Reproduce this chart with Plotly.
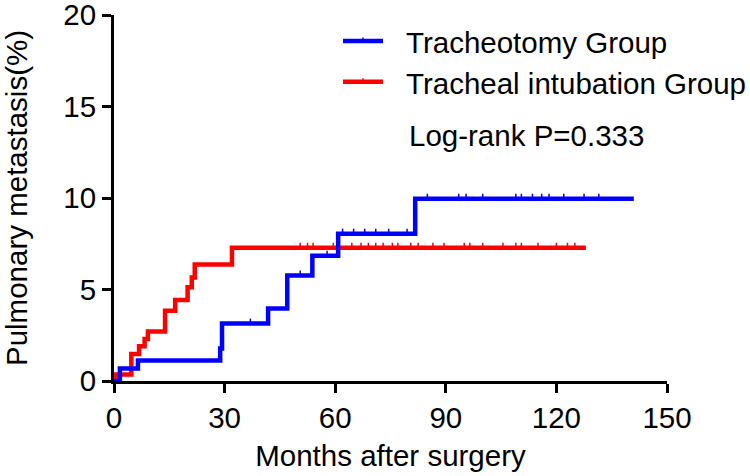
import plotly.graph_objects as go
import numpy as np

# ---- data (months, cumulative % with pulmonary metastasis) ----
blue_name = "Tracheotomy Group"
blue_time = [0, 1.6, 6.5, 28.8, 29.3, 41.8, 47.0, 53.8, 60.8, 81.7, 141.0]
blue_value = [0, 0.68, 1.12, 1.77, 3.14, 3.96, 5.76, 6.85, 8.05, 9.96, 9.96]
blue_censor = [37, 50.5, 57.8, 62, 65, 68, 71, 74.5, 79.5, 85, 93.5, 95.5, 100,
               109, 110.5, 113.5, 116, 118, 122, 127.5, 131.5]

red_name = "Tracheal intubation Group"
red_time = [0, 0.5, 4.7, 6.8, 8.3, 9.2, 13.85, 16.6, 19.96, 21.1, 21.9, 32.0, 128.0]
red_value = [0, 0.35, 1.48, 1.9, 2.3, 2.7, 3.84, 4.43, 5.12, 5.66, 6.36, 7.28, 7.28]
red_censor = [50.5, 52.5, 54, 59.5, 64.5, 67, 69, 71, 73, 75.5, 77, 80.5, 82.5,
              86.5, 89.5, 95, 96.5, 100, 105.5, 109, 110.5, 115, 120, 123, 125]

x_ticks = [0, 30, 60, 90, 120, 150]
y_ticks = [0, 5, 10, 15, 20]
x_title = "Months after surgery"
y_title = "Pulmonary metastasis(%)"
p_text = "Log-rank P=0.333"

BLUE = "#0000FF"
RED = "#FF0000"
FONT = "Liberation Sans, Arial, sans-serif"
FS = 29.5


def step_at(times, values, t):
    idx = np.searchsorted(np.array(times), t, side="right") - 1
    return values[max(idx, 0)]


fig = go.Figure()

for times, values, censor, color, name in [
    (red_time, red_value, red_censor, RED, red_name),
    (blue_time, blue_value, blue_censor, BLUE, blue_name),
]:
    fig.add_trace(go.Scatter(
        x=times, y=values, mode="lines", line=dict(color=color, width=4.5, shape="hv"),
        name=name, showlegend=False, cliponaxis=False, hoverinfo="skip"))
    fig.add_trace(go.Scatter(
        x=censor, y=[step_at(times, values, t) + 0.12 for t in censor], mode="markers",
        marker=dict(symbol="line-ns", size=4, line=dict(color=color, width=1.5)),
        showlegend=False, cliponaxis=False, hoverinfo="skip"))

# manual legend (Prism style), positioned in paper space
L, R, T, B = 114, 667, 15, 381


def px(xp):
    return (xp - L) / (R - L)


def py(yp):
    return (B - yp) / (B - T)


for row_y, color, name in [(41, BLUE, blue_name), (81.7, RED, red_name)]:
    fig.add_shape(type="line", xref="paper", yref="paper", x0=px(343), x1=px(383),
                  y0=py(row_y), y1=py(row_y), line=dict(color=color, width=4.5))
    fig.add_shape(type="line", xref="paper", yref="paper", x0=px(363), x1=px(363),
                  y0=py(row_y), y1=py(row_y - 3.5), line=dict(color=color, width=1.5))
    fig.add_annotation(xref="paper", yref="paper", x=px(404), y=py(row_y + 2),
                       xanchor="left", yanchor="middle", text=name, showarrow=False,
                       font=dict(family=FONT, size=FS, color="black"))

fig.add_annotation(xref="paper", yref="paper", x=px(407), y=py(135),
                   xanchor="left", yanchor="middle", text=p_text, showarrow=False,
                   font=dict(family=FONT, size=FS, color="black"))

axis_common = dict(showline=True, linewidth=3, linecolor="black", ticks="outside",
                   ticklen=9, tickwidth=3, tickcolor="black", showgrid=False,
                   zeroline=False, automargin=False, ticklabeloverflow="allow",
                   tickfont=dict(family=FONT, size=FS, color="black"))

fig.update_xaxes(range=[0, 150], tickvals=x_ticks, ticktext=[str(v) for v in x_ticks],
                 title=dict(text=x_title, font=dict(family=FONT, size=FS, color="black"),
                            standoff=12), **axis_common)
fig.update_yaxes(range=[0, 20], tickvals=y_ticks, ticktext=[str(v) for v in y_ticks],
                 title=dict(text=y_title, font=dict(family=FONT, size=FS, color="black"),
                            standoff=33), **axis_common)

fig.update_layout(width=750, height=476, margin=dict(l=114, r=83, t=15, b=95),
                  plot_bgcolor="white", paper_bgcolor="white",
                  font=dict(family=FONT, size=FS, color="black"))

fig.write_html("out.html", config={"displayModeBar": False},
               post_script="document.body.style.margin='0';document.body.style.padding='0';")
